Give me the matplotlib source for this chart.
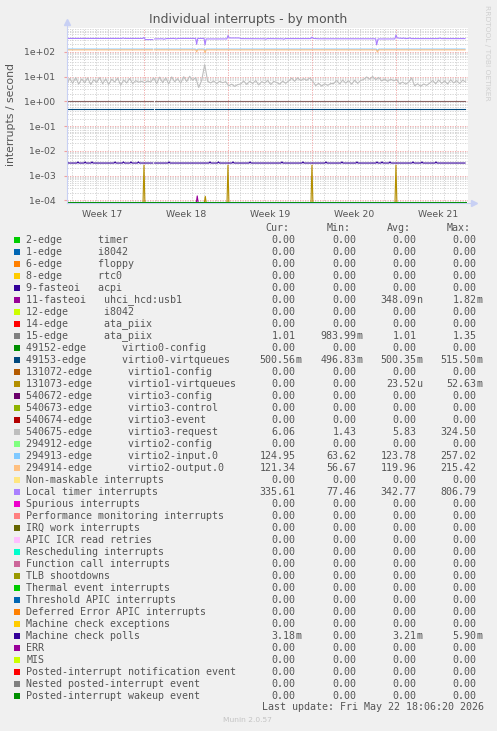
import numpy as np
import matplotlib.pyplot as plt
from matplotlib.patches import Rectangle

W, H = 497, 731
nan = float('nan')

# x axis: days from the left edge of the graph
x_end = 33.47
week_starts = [6.44, 13.44, 20.44, 27.44]
week_centers = [2.94, 9.94, 16.94, 23.94, 30.94]
week_names = ['Week 17', 'Week 18', 'Week 19', 'Week 20', 'Week 21']
y_lo, y_hi = 10 ** -4.109, 10 ** 2.947

labels = [
    '2-edge      timer', '1-edge      i8042', '6-edge      floppy', '8-edge      rtc0',
    '9-fasteoi   acpi', '11-fasteoi   uhci_hcd:usb1', '12-edge      i8042',
    '14-edge      ata_piix', '15-edge      ata_piix', '49152-edge      virtio0-config',
    '49153-edge      virtio0-virtqueues', '131072-edge      virtio1-config',
    '131073-edge      virtio1-virtqueues', '540672-edge      virtio3-config',
    '540673-edge      virtio3-control', '540674-edge      virtio3-event',
    '540675-edge      virtio3-request', '294912-edge      virtio2-config',
    '294913-edge      virtio2-input.0', '294914-edge      virtio2-output.0',
    'Non-maskable interrupts', 'Local timer interrupts', 'Spurious interrupts',
    'Performance monitoring interrupts', 'IRQ work interrupts', 'APIC ICR read retries',
    'Rescheduling interrupts', 'Function call interrupts', 'TLB shootdowns',
    'Thermal event interrupts', 'Threshold APIC interrupts', 'Deferred Error APIC interrupts',
    'Machine check exceptions', 'Machine check polls', 'ERR', 'MIS',
    'Posted-interrupt notification event', 'Nested posted-interrupt event',
    'Posted-interrupt wakeup event',
]
colors = [
    '#00CC00', '#0066B3', '#FF8000', '#FFCC00', '#330099', '#990099', '#CCFF00', '#FF0000',
    '#808080', '#008F00', '#00487D', '#B35A00', '#B38F00', '#6B006B', '#8FB300', '#B30000',
    '#BEBEBE', '#80FF80', '#80C9FF', '#FFC080', '#FFE680', '#AA80FF', '#EE00CC', '#FF8080',
    '#666600', '#FFBFFF', '#00FFCC', '#CC6699', '#999900',
    '#00CC00', '#0066B3', '#FF8000', '#FFCC00', '#330099', '#990099', '#CCFF00', '#FF0000',
    '#808080', '#008F00',
]
cur = ['0.00'] * 39
mins = ['0.00'] * 39
avgs = ['0.00'] * 39
maxs = ['0.00'] * 39
cur[8], mins[8], avgs[8], maxs[8] = '1.01', '983.99m', '1.01', '1.35'
cur[10], mins[10], avgs[10], maxs[10] = '500.56m', '496.83m', '500.35m', '515.50m'
avgs[5], maxs[5] = '348.09n', '1.82m'
avgs[12], maxs[12] = '23.52u', '52.63m'
cur[16], mins[16], avgs[16], maxs[16] = '6.06', '1.43', '5.83', '324.50'
cur[18], mins[18], avgs[18], maxs[18] = '124.95', '63.62', '123.78', '257.02'
cur[19], mins[19], avgs[19], maxs[19] = '121.34', '56.67', '119.96', '215.42'
cur[21], mins[21], avgs[21], maxs[21] = '335.61', '77.46', '342.77', '806.79'
cur[33], mins[33], avgs[33], maxs[33] = '3.18m', '0.00', '3.21m', '5.90m'

# series
loc_days = [0, 4.6, 4.7, 4.8, 6.35, 6.44, 6.55, 7.17, 7.25, 7.33, 8.0, 8.1, 8.3, 9.0, 9.1,
            9.3, 10.75, 10.83, 10.92, 11.45, 11.53, 11.62, 13.35, 13.44, 13.55, 14.4, 14.5,
            16.5, 16.6, 16.7, 18.0, 18.1, 18.2, 20.35, 20.44, 20.55, 21.0, 25.75, 25.83,
            25.95, 27.35, 27.44, 27.55, 28.0, 28.1, 28.2, 28.5, 28.6, 28.7, 31.0, 31.1, 31.2,
            33.2]
loc_vals = [345, 345, 360, 345, 345, 380, 310, 310, nan, 330, 335, 320, 340, 345, 330,
            345, 345, 200, 345, 345, 190, 330, 330, 450, 360, 360, 340,
            335, 320, 340, 335, 320, 340, 340, 390, 345, 335, 335, 190,
            330, 330, 470, 360, 345, 360, 340, 345, 365, 340, 340, 360, 340,
            340]

in_days = [0, 7.17, 7.25, 7.33, 10.75, 10.83, 10.92, 11.45, 11.53, 11.62, 25.8, 25.9, 26.0, 33.2]
in_vals = [128, 128, nan, 128, 128, 110, 128, 128, 105, 128, 128, 112, 128, 128]
out_days = [0, 7.17, 7.25, 7.33, 10.75, 10.83, 10.92, 11.45, 11.53, 11.62, 25.8, 25.9, 26.0, 33.2]
out_vals = [119, 119, nan, 119, 119, 100, 119, 119, 92, 119, 119, 98, 119, 119]

req_vals = [4.6, 8.4, 5.3, 9.1, 4.9, 7.9, 5.6, 8.8, 4.7, 7.4, 5.8, 9.0, 5.1, 8.1, 4.8, 7.7,
            6.0, 8.6, 4.5, 7.2, 5.5, 8.3, 5.2, 6.8, 5.9, 6.4,
            5.6, 6.6, 5.9,
            8.8, 5.2, 9.4, 5.6, 8.9, 5.0, 9.6, 6.1, 8.2, 5.4, 9.8, 6.3, 10.2, 7.0, 9.1,
            3.6, 7.0, 30, 6.4,
            5.5, 6.6, 5.2, 6.4, 5.6, 6.2,
            4.2, 4.9, 4.0, 4.7,
            5.0, 6.6, 4.8, 6.4, 5.2, 6.9, 4.6, 6.2, 5.4, 7.0, 4.7, 6.3, 5.8, 4.9, 6.5, 5.3,
            6.6, 8.6, 6.4, 8.9, 6.8, 8.2, 7.0, 8.7, 6.5,
            4.3, 5.3, 4.1, 5.1, 4.4, 5.2,
            5.2, 7.0, 5.0, 7.2, 5.4, 6.8, 4.9, 7.1, 5.3, 6.9,
            7.6, 9.6, 7.8, 10.0, 7.4, 9.2,
            6.6, 7.9, 6.4, 7.8, 6.7, 7.6,
            5.0, 6.0, 4.9, 5.9,
            8.8,
            4.2, 5.1, 4.0, 5.0, 4.4,
            5.4, 6.9, 5.1, 7.2, 5.3, 6.6, 5.0, 7.4, 5.5, 6.8, 5.2, 7.1, 6.0]
req_days = np.arange(len(req_vals)) * 0.25

ata_days = [0, 7.17, 7.25, 7.33, 33.2]
ata_vals = [1.01, 1.01, nan, 1.01, 1.01]
vq0_days = [0, 7.17, 7.25, 7.33, 33.2]
vq0_vals = [0.5, 0.5, nan, 0.5, 0.5]

mcp_base, mcp_peak = 3.2e-3, 3.55e-3
mcp_bumps = [0.05, 0.94, 1.53, 2.11, 4.03, 4.73, 5.36, 5.98, 8.53, 11.94, 12.65, 13.86,
             15.28, 17.94, 19.69, 21.61, 22.94, 24.19, 25.86, 26.28, 26.94, 28.86, 29.61, 30.78]
gap = (7.17, 7.25, 7.33)

vq1_days = [0, 6.36, 6.44, 6.52, 11.47, 11.55, 11.63, 13.36, 13.44, 13.52,
            20.36, 20.44, 20.52, 27.36, 27.44, 27.52, 33.2]
vq1_vals = [0, 0, 2.6e-3, 0, 0, 1.45e-4, 0, 0, 2.6e-3, 0,
            0, 2.6e-3, 0, 0, 2.6e-3, 0, 0]
usb_days = [0, 10.8, 10.88, 10.96, 33.2]
usb_vals = [0, 0, 1.5e-4, 0, 0]

mcp_days, mcp_vals = [0], [mcp_base]
gap_done = False
for c in mcp_bumps:
    if not gap_done and c > gap[0]:
        mcp_days += list(gap)
        mcp_vals += [mcp_base, nan, mcp_base]
        gap_done = True
    if c > 0.1:
        mcp_days.append(c - 0.08)
        mcp_vals.append(mcp_base)
    mcp_days += [c, c + 0.08]
    mcp_vals += [mcp_peak, mcp_base]
mcp_days.append(33.2)
mcp_vals.append(mcp_base)

series = {5: (usb_days, usb_vals), 8: (ata_days, ata_vals), 10: (vq0_days, vq0_vals),
          12: (vq1_days, vq1_vals), 16: (req_days, req_vals), 18: (in_days, in_vals),
          19: (out_days, out_vals), 21: (loc_days, loc_vals), 33: (mcp_days, mcp_vals)}

fig = plt.figure(figsize=(W / 100, H / 100), dpi=100, facecolor='#f0f0f0')


def fx(x):
    return x / W


def fy(y):
    return 1 - y / H


left, right, top, bottom = 66.7, 468.3, 28.3, 203.0
ax = fig.add_axes([fx(left), fy(bottom), (right - left) / W, (bottom - top) / H])
ax.set_facecolor('white')
ax.set_yscale('log')
ax.set_xlim(0, x_end)
ax.set_ylim(y_lo, y_hi)
for s in ax.spines.values():
    s.set_visible(False)

# grid
dot = (0, (1.5, 1.5))
for e in range(-5, 3):
    for m in range(2, 10):
        v = m * 10.0 ** e
        if y_lo < v < y_hi:
            ax.axhline(v, color='#cfcfcf', lw=0.6, ls=dot, zorder=0.5)
d = week_starts[0] - 6
while d < x_end:
    if all(abs(d - w) > 0.01 for w in week_starts):
        ax.axvline(d, color='#cfcfcf', lw=0.6, ls=dot, zorder=0.5)
    d += 1
for e in range(-4, 3):
    ax.axhline(10.0 ** e, color='#f0a0a0', lw=0.6, ls=dot, zorder=0.6)
for w in week_starts:
    ax.axvline(w, color='#f0a0a0', lw=0.6, ls=dot, zorder=0.6)

# series, zeros sit on the bottom edge like rrdtool draws them
for i in range(len(labels)):
    days, vals = series.get(i, ([0, 33.2], [0, 0]))
    v = np.array(vals, dtype=float)
    c = colors[i]
    if i == 8:
        c = '#8a6464'
    if i in series:
        ax.plot(days, np.where(v == 0, y_lo, v), color=c, lw=0.8, zorder=2)
    else:
        ax.plot(days, np.where(v == 0, y_lo, v), color=c, lw=0.8, zorder=2,
                antialiased=False)

# axes with arrows
axc = '#c8d0f4'
ax.plot([0, 0], [0, 1.03], transform=ax.transAxes, color=axc, lw=0.8, clip_on=False, zorder=3)
ax.plot([0, 1.012], [0, 0], transform=ax.transAxes, color=axc, lw=0.8, clip_on=False, zorder=3)
ax.plot([0], [1.035], transform=ax.transAxes, marker='^', ms=4, color=axc, clip_on=False)
ax.plot([1.015], [0], transform=ax.transAxes, marker='>', ms=4, color=axc, clip_on=False)

txt = '#555555'
ax.set_yticks([10.0 ** e for e in range(-4, 3)])
ax.set_yticklabels([f'{10.0 ** e:.0e}' for e in range(-4, 3)])
ax.yaxis.set_minor_locator(plt.NullLocator())
ax.tick_params(axis='y', length=2, color='#f0a0a0', labelsize=6.7, labelcolor=txt, pad=6)
ax.set_xticks(week_centers)
ax.set_xticklabels(week_names)
ax.tick_params(axis='x', length=0, labelsize=6.7, labelcolor=txt, pad=5)

fig.text(fx(248), fy(19.3), 'Individual interrupts - by month', fontsize=9, color=txt,
         ha='center', va='center')
fig.text(fx(10.7), fy(115), 'interrupts / second', fontsize=7.8, color=txt,
         rotation=90, ha='center', va='center')
fig.text(fx(487.3), fy(53), 'RRDTOOL / TOBI OETIKER', fontsize=5.4, color='#d0d0d0',
         rotation=270, ha='center', va='center')

# legend
mono = 'DejaVu Sans Mono'
col_end = [295.7, 356.7, 416.7, 476.7]
for j, h in enumerate(['Cur:', 'Min:', 'Avg:', 'Max:']):
    fig.text(fx(col_end[j] - 6), fy(227.7), h, family=mono, fontsize=7.2, color=txt,
             ha='right', va='center')
for i, lab in enumerate(labels):
    y = 240 + 12 * i
    fig.add_artist(Rectangle((fx(14), fy(y + 3)), 6 / W, 6 / H, transform=fig.transFigure,
                             facecolor=colors[i], edgecolor='none'))
    fig.text(fx(26.3), fy(y), lab, family=mono, fontsize=7.2, color=txt, ha='left', va='center')
    for j, s in enumerate([cur[i], mins[i], avgs[i], maxs[i]]):
        num, suf = (s[:-1], s[-1]) if s[-1].isalpha() else (s, '')
        fig.text(fx(col_end[j]), fy(y), num, family=mono, fontsize=7.2, color=txt,
                 ha='right', va='center')
        if suf:
            fig.text(fx(col_end[j]), fy(y), suf, family=mono, fontsize=7.2, color=txt,
                     ha='left', va='center')

fig.text(fx(483.7), fy(707.3), 'Last update: Fri May 22 18:06:20 2026', family=mono,
         fontsize=7.2, color=txt, ha='right', va='center')
fig.text(fx(247.7), fy(720), 'Munin 2.0.57', fontsize=5.4, color='#c4c4c4',
         ha='center', va='center')

fig.savefig('out.png', dpi=100, facecolor=fig.get_facecolor())
